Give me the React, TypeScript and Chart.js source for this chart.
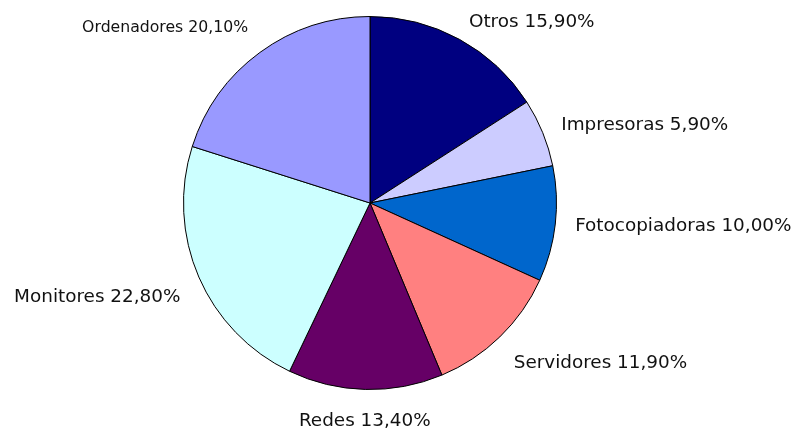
import React, { useEffect, useRef } from "react";
import { Chart, registerables } from "chart.js";

Chart.register(...registerables);

const categories = ["Otros", "Impresoras", "Fotocopiadoras", "Servidores", "Redes", "Monitores", "Ordenadores"];
const shares = [15.9, 5.9, 10.0, 11.9, 13.4, 22.8, 20.1];
const sliceColors = ["#000080", "#CCCCFF", "#0066CC", "#FF8080", "#660066", "#CCFFFF", "#9999FF"];
const labelFontSizes = [18.4, 18.4, 18.4, 18.4, 18.4, 18.4, 15.7];

const fmt = (v: number) => v.toFixed(2).replace(".", ",") + "%";

const labelPlugin = {
  id: "outerLabels",
  afterDraw(chart: any) {
    const ctx = chart.ctx;
    const meta = chart.getDatasetMeta(0);
    ctx.save();
    ctx.fillStyle = "#111";
    meta.data.forEach((arc: any, i: number) => {
      const { x, y, startAngle, endAngle, outerRadius } = arc.getProps(
        ["x", "y", "startAngle", "endAngle", "outerRadius"],
        true
      );
      const mid = (startAngle + endAngle) / 2;
      const r = outerRadius + 20;
      const ax = x + Math.cos(mid) * r;
      let ay = y + Math.sin(mid) * r;
      const size = labelFontSizes[i];
      ctx.font = `${size}px "DejaVu Sans"`;
      const c = Math.cos(mid);
      const s = Math.sin(mid);
      ctx.textAlign = Math.abs(c) < 0.15 ? "center" : c > 0 ? "left" : "right";
      if (s > 0.3) {
        ay += size / 2 + 3;
      } else if (s < -0.7 && c < 0) {
        ay -= size / 2 + 1;
      }
      ctx.textBaseline = "middle";
      ctx.fillText(`${categories[i]} ${fmt(shares[i])}`, ax, ay);
    });
    ctx.restore();
  },
};

export default function App() {
  const ref = useRef<HTMLCanvasElement | null>(null);
  useEffect(() => {
    document.body.style.margin = "0";
    const chart = new Chart(ref.current as HTMLCanvasElement, {
      type: "pie",
      data: {
        labels: categories,
        datasets: [
          {
            data: shares,
            backgroundColor: sliceColors,
            borderColor: "#000",
            borderWidth: 1,
          },
        ],
      },
      options: {
        responsive: false,
        animation: false,
        layout: { padding: { top: 16, bottom: 40, left: 0, right: 53 } },
        plugins: { legend: { display: false }, tooltip: { enabled: false } },
      },
      plugins: [labelPlugin],
    });
    return () => chart.destroy();
  }, []);
  return (
    <div style={{ width: 793, height: 430, background: "#fff" }}>
      <canvas ref={ref} width={793} height={430} style={{ display: "block" }} />
    </div>
  );
}
